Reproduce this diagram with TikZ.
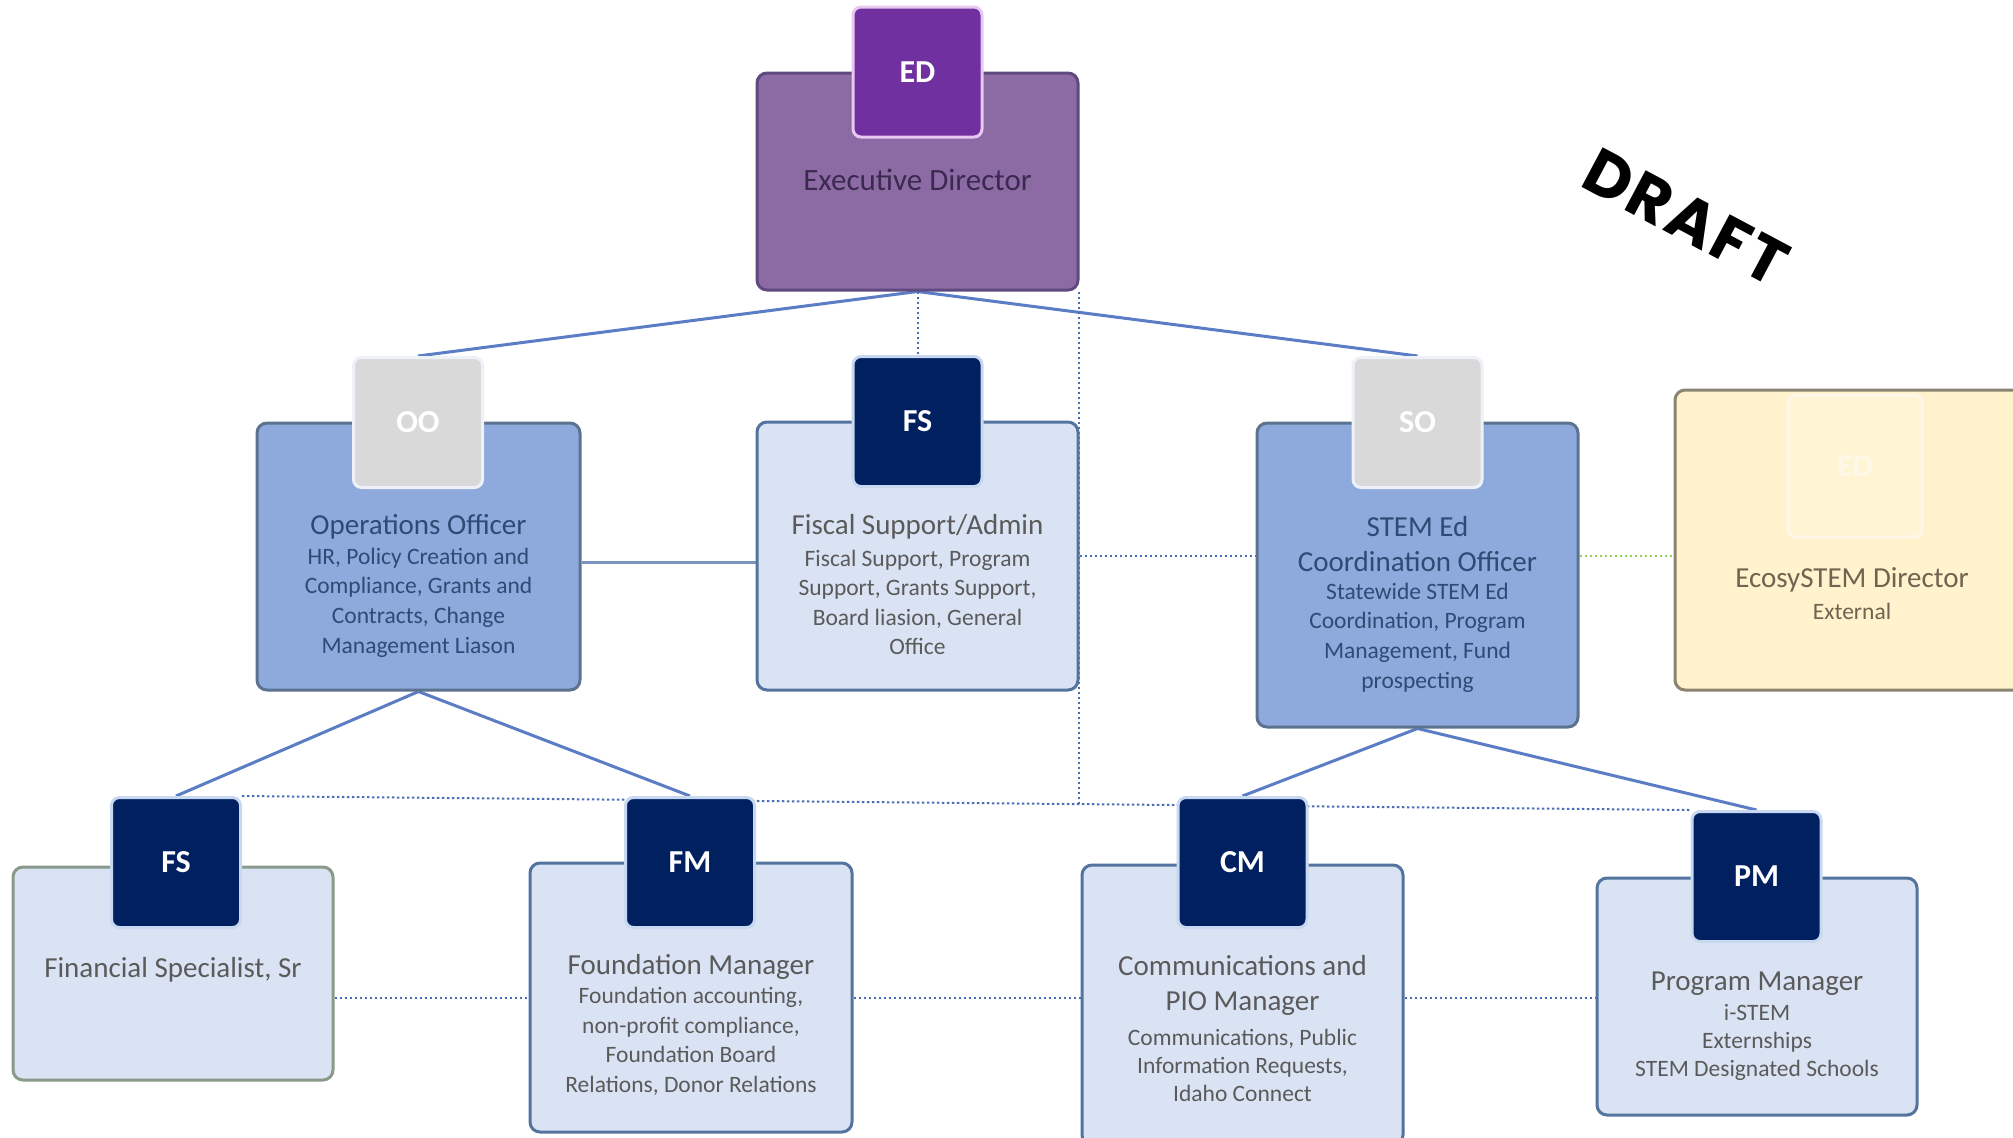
\documentclass[tikz,border=0pt]{standalone}
\usepackage{fontspec}
\setmainfont{Carlito}
\newfontfamily\draftfont{Poppins}
\usetikzlibrary{calc}
\pgfdeclarelayer{bg}
\pgfsetlayers{bg,main}
\definecolor{edfill}{HTML}{8C6BA5}
\definecolor{edline}{HTML}{5F4A80}
\definecolor{edbadgefill}{HTML}{7030A0}
\definecolor{edbadgeline}{HTML}{E6C8F0}
\definecolor{edtxt}{HTML}{3B2A50}
\definecolor{midfill}{HTML}{8EA9DB}
\definecolor{midline}{HTML}{5C7390}
\definecolor{midtxt}{HTML}{2F4A75}
\definecolor{greyfill}{HTML}{D9D9D9}
\definecolor{greyline}{HTML}{EEF2F8}
\definecolor{lightfill}{HTML}{DAE3F3}
\definecolor{lightline}{HTML}{5474A0}
\definecolor{lighttxt}{HTML}{5A5A5A}
\definecolor{navyfill}{HTML}{002060}
\definecolor{navyline}{HTML}{C8D8F0}
\definecolor{ecofill}{HTML}{FFF2CC}
\definecolor{ecoline}{HTML}{8A8470}
\definecolor{ecobadgefill}{HTML}{FFF4D4}
\definecolor{ecobadgeline}{HTML}{FFF8E8}
\definecolor{ecotxt}{HTML}{6E6450}
\definecolor{fingreen}{HTML}{8A9A8A}
\definecolor{conn}{HTML}{5A7DC5}
\definecolor{dotconn}{HTML}{4A6EB5}
\definecolor{greendot}{HTML}{92D050}
\definecolor{sidelink}{HTML}{7C93BC}
\tikzset{
  boxbase/.style={rectangle, rounded corners=5pt, line width=1.5pt, inner sep=0pt},
  edbox/.style={boxbase, fill=edfill, draw=edline},
  midbox/.style={boxbase, fill=midfill, draw=midline},
  lightbox/.style={boxbase, fill=lightfill, draw=lightline},
  ecobox/.style={boxbase, fill=ecofill, draw=ecoline},
  badgebase/.style={rectangle, rounded corners=4pt, line width=1.5pt, minimum width=64.5pt, minimum height=65pt, inner sep=0pt, text=white, font=\bfseries\fontsize{16}{18}\selectfont},
  edbadge/.style={badgebase, fill=edbadgefill, draw=edbadgeline},
  greybadge/.style={badgebase, fill=greyfill, draw=greyline},
  navybadge/.style={badgebase, fill=navyfill, draw=navyline},
  ecobadge/.style={badgebase, fill=ecobadgefill, draw=ecobadgeline, text=ecobadgeline, minimum width=67pt, minimum height=71pt},
  titletxt/.style={inner sep=0pt, align=center, font=\fontsize{14.5}{17.5}\selectfont},
  subtxt/.style={inner sep=0pt, align=center, font=\fontsize{11.75}{14.8}\selectfont},
  solidconn/.style={draw=conn, line width=1.5pt},
  dotline/.style={draw=dotconn, line width=1pt, dash pattern=on 1.2pt off 1.3pt},
}
\begin{document}
\begin{tikzpicture}[x=0.5pt,y=-0.5pt]
\useasboundingbox (0,0) rectangle (2013,1137);
\clip (0,0) rectangle (2013,1137);

% Executive Director
\node[edbox, minimum width=160.5pt, minimum height=108.5pt] (ed) at (917.5,181.5) {};
\node[edbadge] (edb) at (917.5,72) {ED};
\node[titletxt, text=edtxt, font=\fontsize{15.5}{18}\selectfont] (edt) at (917.5,180) {Executive Director};

% Operations Officer
\node[midbox, minimum width=161.5pt, minimum height=133.5pt] (oo) at (418.5,556.5) {};
\node[greybadge] (oob) at (418,422.5) {OO};
\node[titletxt, text=midtxt] (oot) at (418.5,527) {Operations Officer};
\node[subtxt, text=midtxt] (oos) at (418.5,602.5) {HR, Policy Creation and\\Compliance, Grants and\\Contracts, Change\\Management Liason};

% Fiscal Support/Admin
\node[lightbox, minimum width=160.5pt, minimum height=134pt] (fsa) at (917.5,556) {};
\node[navybadge] (fsab) at (917.5,421.5) {FS};
\node[titletxt, text=lighttxt] (fsat) at (917.5,527) {Fiscal Support/Admin};
\node[subtxt, text=lighttxt] (fsas) at (917.5,602.5) {Fiscal Support, Program\\Support, Grants Support,\\Board liasion, General\\Office};

% STEM Ed Coordination Officer
\node[midbox, minimum width=160.5pt, minimum height=152pt] (so) at (1417.5,575) {};
\node[greybadge] (sob) at (1417.5,422.5) {SO};
\node[titletxt, text=midtxt] (sot) at (1417.5,544.5) {STEM Ed\\Coordination Officer};
\node[subtxt, text=midtxt] (sos) at (1417.5,637.5) {Statewide STEM Ed\\Coordination, Program\\Management, Fund\\prospecting};

% EcosySTEM Director
\node[ecobox, minimum width=180pt, minimum height=150pt] (eco) at (1855,540) {};
\node[ecobadge] (ecob) at (1855,466) {ED};
\node[titletxt, text=ecotxt] (ecot) at (1852,580) {EcosySTEM Director};
\node[subtxt, text=ecotxt] (ecos) at (1852,611) {External};

% Financial Specialist, Sr
\node[lightbox, draw=fingreen, minimum width=160pt, minimum height=106.5pt] (fin) at (173,973.5) {};
\node[navybadge] (finb) at (176,862.5) {FS};
\node[titletxt, text=lighttxt] (fint) at (173,970) {Financial Specialist, Sr};

% Foundation Manager
\node[lightbox, minimum width=161pt, minimum height=134.5pt] (fm) at (691,997.5) {};
\node[navybadge] (fmb) at (690,862.5) {FM};
\node[titletxt, text=lighttxt] (fmt) at (691,967) {Foundation Manager};
\node[subtxt, text=lighttxt] (fms) at (691,1041.5) {Foundation accounting,\\non-profit compliance,\\Foundation Board\\Relations, Donor Relations};

% Communications and PIO Manager
\node[lightbox, minimum width=160.5pt, minimum height=140pt] (cm) at (1242.5,1005) {};
\node[navybadge] (cmb) at (1242.5,862.5) {CM};
\node[titletxt, text=lighttxt] (cmt) at (1242.5,985.5) {Communications and\\PIO Manager};
\node[subtxt, text=lighttxt, font=\fontsize{11.75}{13.9}\selectfont] (cms) at (1242.5,1065.5) {Communications, Public\\Information Requests,\\Idaho Connect};

% Program Manager
\node[lightbox, minimum width=160pt, minimum height=118.5pt] (pm) at (1757,996.5) {};
\node[navybadge] (pmb) at (1756.5,876.5) {PM};
\node[titletxt, text=lighttxt] (pmt) at (1757,984) {Program Manager};
\node[subtxt, text=lighttxt, font=\fontsize{11.75}{13.9}\selectfont] (pms) at (1757,1042.5) {i-STEM\\Externships\\STEM Designated Schools};

% DRAFT stamp
\node[rotate=-28, inner sep=0pt, font=\draftfont\bfseries\fontsize{32}{34}\selectfont] (draft) at (1686,217) {D\kern1.5pt R\kern1.5pt A\kern1.5pt F\kern1.5pt T};

\coordinate (vjoin) at (1079,806);

\begin{pgfonlayer}{bg}
  \fill[white] (0,0) rectangle (2013,1137);
  \draw[solidconn] (ed.south) -- (oob.north);
  \draw[solidconn] (ed.south) -- (sob.north);
  \draw[dotline] (ed.south) -- (fsab.north);
  \draw[dotline] (ed.south east -| vjoin) -- (vjoin);
  \draw[dotline] (finb.north east) -- (pmb.north west);
  \draw[solidconn] (oo.south) -- (finb.north);
  \draw[solidconn] (oo.south) -- (fmb.north);
  \draw[solidconn] (so.south) -- (cmb.north);
  \draw[solidconn] (so.south) -- (pmb.north);
  \draw[draw=sidelink, line width=1.5pt] ([yshift=-3pt]oo.east) -- ([yshift=-3pt]oo.east -| fsa.west);
  \draw[dotline] (fsa.east) -- (fsa.east -| so.west);
  \draw[draw=greendot, line width=1.2pt, dash pattern=on 1.2pt off 1.3pt] (fsa.east -| so.east) -- (fsa.east -| eco.west);
  \draw[dotline] (fin.east |- fm.center) -- (fm.west);
  \draw[dotline] (fm.east) -- (fm.east -| cm.west);
  \draw[dotline] (fm.east -| cm.east) -- (fm.east -| pm.west);
\end{pgfonlayer}
\end{tikzpicture}
\end{document}
